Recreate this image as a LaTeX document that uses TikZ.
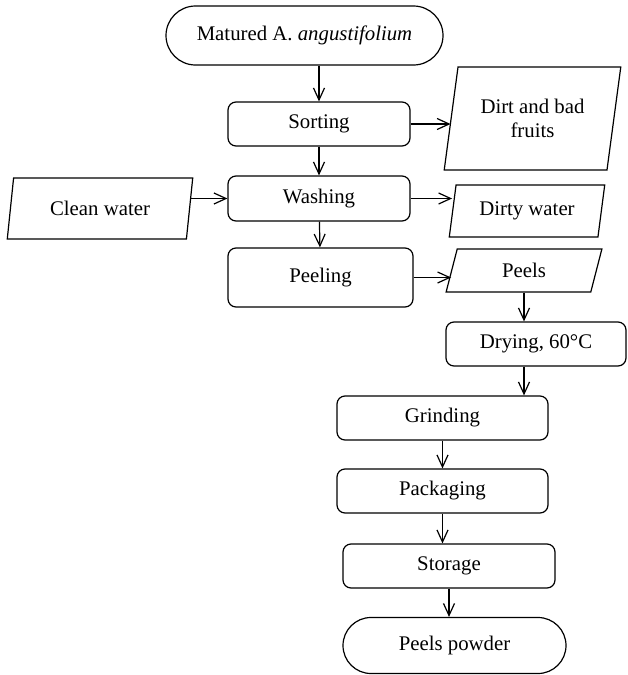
\documentclass[tikz,border=0pt]{standalone}
\usepackage{fontspec}
\setmainfont{Liberation Serif}
\usetikzlibrary{shapes.geometric,shapes.misc,arrows.meta}

\tikzset{
  flow/.style={-{Straight Barb[length=6pt,width=5.5pt]}},
  process/.style={draw,rectangle,rounded corners=4pt,inner sep=0pt,minimum height=22pt},
  terminal/.style={draw,rounded rectangle,inner sep=0pt},
  data/.style={draw,trapezium,trapezium left angle=76,trapezium right angle=104,
    trapezium stretches=true,inner sep=0pt,align=center}
}

\begin{document}
\begin{tikzpicture}[x=0.5pt,y=-0.5pt,line width=0.6pt,font=\fontsize{10.4}{12}\selectfont]
  \useasboundingbox (0,0) rectangle (627,675);

  % main column
  \node[terminal,minimum width=138.5pt,minimum height=29.5pt] (start) at (304.5,35.5) {Matured A. \textit{angustifolium}};
  \node[process,minimum width=91pt] (sort) at (319,124) {Sorting};
  \node[process,minimum width=91pt,minimum height=22.5pt] (wash) at (319,198.5) {Washing};
  \node[process,minimum width=92.5pt,minimum height=29.5pt] (peel) at (320.5,277.5) {Peeling};

  % inputs and outputs
  \node[data,minimum width=88.5pt,minimum height=51.5pt] (dirt) at (532.5,118.5) {Dirt and bad\\fruits};
  \node[data,minimum width=93pt,minimum height=30.5pt] (clean) at (100,208.5) {Clean water};
  \node[data,minimum width=78pt,minimum height=26pt] (dirty) at (527,211) {Dirty water};
  \node[data,minimum width=78pt,minimum height=21.5pt] (peels) at (524,270.5) {Peels};

  % peel branch
  \node[process,minimum width=90pt] (dry) at (536,344) {Drying, 60°C};
  \node[process,minimum width=105.5pt] (grind) at (442.5,418) {Grinding};
  \node[process,minimum width=105.5pt] (pack) at (442.5,491) {Packaging};
  \node[process,minimum width=106pt] (store) at (449,566) {Storage};
  \node[terminal,minimum width=111.5pt,minimum height=28pt] (powder) at (454.5,645.5) {Peels powder};

  \draw[flow] (sort.north |- start.south) -- (sort.north);
  \draw[flow] (sort) -- (wash);
  \draw[flow] (wash) -- (peel);
  \draw[flow] (sort.east) -- (sort.east -| dirt.west);
  \draw[flow] (clean.east |- wash.west) -- (wash.west);
  \draw[flow] (wash.east) -- (wash.east -| dirty.west);
  \draw[flow] (peel.east) -- (peel.east -| peels.west);
  \draw[flow] (peels.south) -- (peels.south |- dry.north);
  \draw[flow] (dry.south -| peels.south) -- (grind.north -| peels.south);
  \draw[flow] (grind) -- (pack);
  \draw[flow] (pack.south) -- (pack.south |- store.north);
  \draw[flow] (store.south) -- (store.south |- powder.north);
\end{tikzpicture}
\end{document}
